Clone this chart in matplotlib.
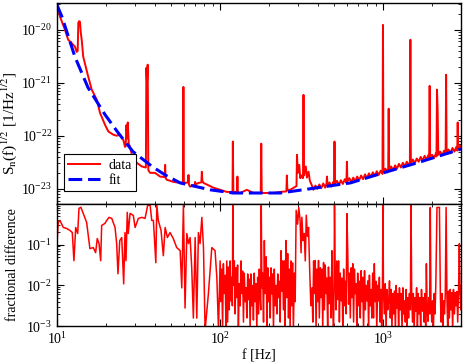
import numpy as np
import matplotlib
matplotlib.use("Agg")
import matplotlib.pyplot as plt
from matplotlib.ticker import LogLocator, NullFormatter

plt.rcParams["font.family"] = ["Liberation Serif", "DejaVu Serif"]
plt.rcParams["mathtext.fontset"] = "stix"
plt.rcParams["font.size"] = 10

# values as (log10 f, log10 value) pairs
# top panel, measured noise spectrum
data_pts = [
    (1.000, -19.51), (1.018, -19.75), (1.049, -20.00), (1.069, -20.19), (1.092, -20.26),
    (1.110, -20.32), (1.121, -20.42), (1.127, -20.40), (1.131, -19.87), (1.136, -19.84),
    (1.141, -19.85), (1.146, -20.05), (1.152, -20.20), (1.161, -20.51), (1.192, -20.89),
    (1.213, -21.13), (1.244, -21.32), (1.264, -21.57), (1.294, -21.79), (1.315, -21.92),
    (1.345, -21.98), (1.366, -22.00), (1.387, -21.98), (1.407, -22.08), (1.417, -22.21),
    (1.421, -22.20), (1.426, -21.80), (1.430, -22.05), (1.434, -21.75), (1.440, -22.15),
    (1.448, -22.21), (1.462, -22.40), (1.489, -22.51), (1.520, -22.58), (1.545, -22.60),
    (1.548, -20.72), (1.552, -21.00), (1.556, -20.66), (1.560, -22.65), (1.571, -22.70),
    (1.601, -22.70), (1.632, -22.77), (1.660, -22.78), (1.663, -22.55), (1.666, -22.80),
    (1.673, -22.83), (1.713, -22.87), (1.755, -22.89), (1.772, -22.88), (1.775, -21.08),
    (1.778, -22.89), (1.785, -22.89), (1.804, -22.88), (1.806, -22.74), (1.809, -22.92),
    (1.816, -22.96), (1.845, -22.92), (1.847, -22.87), (1.850, -22.92), (1.867, -22.89),
    (1.885, -22.88), (1.888, -22.68), (1.891, -22.85), (1.898, -22.89), (1.959, -22.98),
    (2.041, -23.06), (2.076, -23.06), (2.078, -22.11), (2.081, -23.06), (2.103, -23.06),
    (2.106, -22.77), (2.109, -23.07), (2.123, -23.08), (2.164, -23.02), (2.204, -23.08),
    (2.249, -23.08), (2.252, -22.15), (2.255, -23.08), (2.327, -23.08), (2.368, -23.06),
    (2.406, -23.05), (2.409, -22.75), (2.412, -23.02), (2.429, -23.02), (2.468, -22.95),
    (2.471, -22.36), (2.476, -22.70), (2.485, -22.55), (2.491, -22.80), (2.498, -22.75),
    (2.508, -22.80), (2.511, -21.23), (2.514, -22.75), (2.525, -22.58), (2.532, -22.79),
    (2.542, -22.68), (2.550, -22.85), (2.560, -22.92), (2.572, -23.02), (2.584, -22.94),
    (2.596, -23.00), (2.608, -22.92), (2.620, -22.99), (2.632, -22.90), (2.644, -22.98),
    (2.652, -22.90), (2.655, -22.77), (2.658, -22.95), (2.670, -22.88), (2.682, -22.96),
    (2.694, -22.87), (2.698, -22.93), (2.701, -22.11), (2.704, -22.90), (2.716, -22.85),
    (2.728, -22.93), (2.740, -22.84), (2.752, -22.91), (2.764, -22.82), (2.774, -22.89),
    (2.777, -22.49), (2.780, -22.86), (2.792, -22.80), (2.804, -22.88), (2.816, -22.79),
    (2.828, -22.86), (2.840, -22.77), (2.852, -22.84), (2.864, -22.75), (2.876, -22.82),
    (2.888, -22.73), (2.900, -22.80), (2.912, -22.71), (2.924, -22.78), (2.936, -22.69),
    (2.948, -22.76), (2.960, -22.67), (2.972, -22.74), (2.984, -22.66), (2.995, -22.72),
    (2.998, -19.91), (3.001, -22.68), (3.013, -22.62), (3.025, -22.69), (3.030, -22.62),
    (3.033, -21.49), (3.036, -22.66), (3.048, -22.58), (3.060, -22.65), (3.072, -22.56),
    (3.084, -22.62), (3.096, -22.53), (3.108, -22.60), (3.120, -22.51), (3.132, -22.58),
    (3.144, -22.49), (3.156, -22.56), (3.163, -22.50), (3.166, -20.19), (3.169, -22.53),
    (3.181, -22.45), (3.193, -22.52), (3.205, -22.43), (3.217, -22.49), (3.229, -22.40),
    (3.241, -22.47), (3.253, -22.38), (3.265, -22.45), (3.277, -22.36), (3.281, -22.43),
    (3.284, -21.06), (3.287, -22.40), (3.299, -22.36), (3.311, -22.42), (3.323, -22.33),
    (3.326, -22.39), (3.329, -21.13), (3.333, -21.51), (3.337, -22.36), (3.349, -22.30),
    (3.361, -22.37), (3.373, -22.28), (3.382, -22.34), (3.385, -20.85), (3.388, -22.31),
    (3.400, -22.26), (3.412, -22.33), (3.424, -22.23), (3.436, -22.30), (3.448, -22.21),
    (3.453, -22.28), (3.456, -21.75), (3.459, -22.26), (3.470, -22.19), (3.479, -22.24),
]

# top panel, fitted curve
fit_pts = [
    (1.000, -19.53), (1.031, -19.76), (1.110, -20.51), (1.190, -21.09), (1.294, -21.60),
    (1.374, -21.94), (1.466, -22.30), (1.583, -22.58), (1.663, -22.74), (1.755, -22.89),
    (1.939, -23.02), (2.080, -23.08), (2.245, -23.08), (2.368, -23.08), (2.552, -23.00),
    (2.798, -22.89), (3.000, -22.70), (3.209, -22.51), (3.479, -22.25),
]

# bottom panel, fractional difference
diff_pts = [
    (1.000, -0.975), (1.008, -0.457), (1.018, -0.407), (1.039, -0.580), (1.060, -0.605),
    (1.080, -0.654), (1.094, -0.704), (1.104, -1.395), (1.115, -0.580), (1.127, -0.728),
    (1.135, -0.111), (1.147, -0.086), (1.161, -0.235), (1.182, -0.457), (1.202, -1.099),
    (1.223, -1.074), (1.237, -1.198), (1.247, -0.852), (1.258, -0.975), (1.268, -1.395),
    (1.274, -0.531), (1.294, -0.481), (1.305, -0.407), (1.319, -0.333), (1.336, -0.358),
    (1.356, -0.580), (1.366, -0.975), (1.374, -1.716), (1.385, -0.901), (1.397, -0.827),
    (1.409, -1.963), (1.417, -0.704), (1.423, -1.395), (1.431, -0.210), (1.437, -0.728),
    (1.448, -0.235), (1.468, -0.284), (1.479, -0.580), (1.499, -0.358), (1.520, -0.333),
    (1.540, -0.358), (1.556, -0.037), (1.571, -0.037), (1.581, -0.407), (1.591, -0.407),
    (1.606, -1.444), (1.612, -0.037), (1.621, -0.407), (1.638, -0.654), (1.652, -1.272),
    (1.663, -0.580), (1.677, -0.827), (1.693, -0.704), (1.713, -0.852), (1.734, -1.074),
    (1.755, -1.148), (1.765, -2.062), (1.775, -0.037), (1.785, -2.556), (1.796, -0.728),
    (1.806, -0.975), (1.816, -0.827), (1.826, -1.568), (1.836, -2.802), (1.847, -0.827),
    (1.857, -2.802), (1.867, -0.704), (1.877, -0.975), (1.888, -0.333), (1.898, -1.074),
    (1.908, -3.100), (1.928, -2.210), (1.949, -1.074), (1.969, -1.148), (1.980, -1.815),
    (1.990, -3.100),
    (2.000, -1.40), (2.005, -2.40), (2.010, -1.60), (2.015, -3.10), (2.020, -1.47),
    (2.025, -2.20), (2.031, -1.75), (2.036, -3.10), (2.041, -1.40), (2.046, -2.90),
    (2.051, -1.55), (2.056, -2.60), (2.061, -1.40), (2.066, -2.38), (2.072, -1.80),
    (2.075, -2.50), (2.078, -0.04), (2.082, -2.00), (2.087, -1.40), (2.092, -2.70),
    (2.097, -1.57), (2.102, -2.30), (2.107, -1.50), (2.112, -3.10), (2.117, -1.96),
    (2.123, -2.50), (2.128, -1.40), (2.133, -2.20), (2.138, -1.65), (2.143, -2.90),
    (2.148, -1.70), (2.154, -2.40), (2.159, -2.06), (2.164, -2.80), (2.169, -1.72),
    (2.174, -2.35), (2.179, -1.85), (2.184, -3.10), (2.189, -1.72), (2.194, -2.50),
    (2.199, -2.00), (2.204, -2.85), (2.209, -1.70), (2.214, -2.40), (2.220, -1.96),
    (2.225, -3.10), (2.230, -1.80), (2.235, -2.70), (2.240, -1.60), (2.245, -2.30),
    (2.249, -2.60), (2.252, -0.04), (2.256, -2.06), (2.261, -1.70), (2.266, -2.90),
    (2.271, -0.90), (2.276, -2.20), (2.282, -1.30), (2.287, -3.10), (2.292, -1.57),
    (2.297, -2.40), (2.302, -1.80), (2.307, -2.80), (2.312, -1.57), (2.317, -2.21),
    (2.322, -1.72), (2.327, -3.10), (2.332, -1.60), (2.337, -2.50), (2.343, -2.00),
    (2.348, -2.70), (2.353, -1.72), (2.358, -2.30), (2.363, -1.90), (2.368, -2.90),
    (2.373, -1.15), (2.378, -2.14), (2.383, -1.40), (2.388, -2.60), (2.393, -1.40),
    (2.398, -3.10), (2.403, -0.90), (2.409, -2.30), (2.414, -1.22), (2.419, -2.80),
    (2.424, -1.60), (2.429, -3.10), (2.434, -1.40), (2.439, -2.50), (2.444, -1.45),
    (2.449, -3.10), (2.455, -1.70), (2.460, -2.40), (2.466, -0.16), (2.475, -0.50),
    (2.482, -0.09), (2.490, -0.40), (2.496, -1.20), (2.501, -0.33), (2.508, -0.90),
    (2.515, -0.73), (2.522, -1.40), (2.528, -0.28), (2.535, -0.80), (2.542, -0.58),
    (2.548, -1.50), (2.556, -2.50), (2.563, -2.06), (2.568, -2.90), (2.573, -1.40),
    (2.578, -2.20), (2.583, -1.39), (2.588, -3.10), (2.593, -1.60), (2.598, -2.40),
    (2.603, -1.39), (2.608, -2.80), (2.614, -1.57), (2.619, -2.30), (2.624, -1.60),
    (2.629, -3.10), (2.634, -1.44), (2.639, -2.60), (2.644, -1.50), (2.649, -2.20),
    (2.654, -1.82), (2.659, -3.10), (2.664, -1.55), (2.669, -2.45), (2.675, -1.80),
    (2.680, -2.80), (2.685, -1.15), (2.690, -2.50), (2.695, -3.10), (2.698, -2.20),
    (2.701, -0.04), (2.705, -1.57), (2.710, -2.60), (2.715, -1.40), (2.721, -2.35),
    (2.726, -1.40), (2.731, -2.90), (2.736, -1.70), (2.742, -2.38), (2.747, -1.82),
    (2.752, -3.10), (2.757, -1.60), (2.762, -2.50), (2.767, -1.90), (2.772, -2.70),
    (2.777, -0.24), (2.782, -1.15), (2.787, -2.46), (2.792, -1.70), (2.798, -2.80),
    (2.803, -1.57), (2.808, -2.30), (2.813, -1.47), (2.818, -2.90), (2.823, -1.60),
    (2.828, -2.20), (2.833, -1.96), (2.838, -3.10), (2.843, -1.70), (2.848, -2.50),
    (2.854, -1.90), (2.859, -2.80), (2.864, -1.64), (2.869, -2.40), (2.874, -1.80),
    (2.879, -3.10), (2.885, -1.64), (2.890, -2.60), (2.895, -2.00), (2.900, -2.38),
    (2.905, -1.89), (2.910, -3.10), (2.915, -1.75), (2.920, -2.50), (2.925, -2.10),
    (2.930, -2.80), (2.935, -1.70), (2.940, -2.80), (2.945, -1.47), (2.950, -2.40),
    (2.955, -1.90), (2.960, -3.10), (2.966, -2.00), (2.971, -2.38), (2.976, -1.80),
    (2.981, -2.90), (2.986, -2.10), (2.990, -3.10), (2.995, -2.00), (2.998, -0.02),
    (3.001, -2.10), (3.006, -2.70), (3.012, -1.96), (3.017, -3.10), (3.022, -2.10),
    (3.027, -2.60), (3.033, -2.38), (3.038, -1.89), (3.043, -2.80), (3.048, -2.10),
    (3.053, -3.10), (3.058, -2.20), (3.063, -2.70), (3.069, -2.14), (3.074, -3.10),
    (3.079, -2.00), (3.084, -2.56), (3.089, -2.20), (3.094, -3.10), (3.099, -2.06),
    (3.104, -2.60), (3.109, -2.20), (3.115, -3.10), (3.120, -2.06), (3.125, -2.70),
    (3.130, -2.38), (3.135, -2.90), (3.140, -2.10), (3.145, -3.10), (3.150, -2.30),
    (3.155, -2.80), (3.160, -2.20), (3.166, -2.60), (3.170, -0.02), (3.174, -2.21),
    (3.179, -2.90), (3.184, -2.20), (3.189, -3.10), (3.194, -2.30), (3.199, -2.63),
    (3.204, -2.06), (3.209, -3.10), (3.214, -2.20), (3.219, -2.70), (3.224, -2.30),
    (3.229, -3.10), (3.234, -2.10), (3.240, -2.63), (3.245, -2.30), (3.250, -2.90),
    (3.255, -2.20), (3.260, -3.10), (3.264, -1.47), (3.269, -2.60), (3.274, -2.88),
    (3.279, -2.30), (3.284, -2.70), (3.288, -0.09), (3.292, -2.38), (3.297, -2.90),
    (3.302, -2.38), (3.307, -3.10), (3.312, -2.20), (3.317, -2.70), (3.322, -1.96),
    (3.329, -0.09), (3.336, -0.09), (3.344, -0.09), (3.350, -2.31), (3.355, -2.90),
    (3.360, -2.20), (3.365, -3.10), (3.370, -2.38), (3.375, -2.70), (3.380, -2.20),
    (3.385, -0.09), (3.390, -2.31), (3.395, -3.10), (3.400, -2.14), (3.405, -2.80),
    (3.410, -2.10), (3.415, -2.60), (3.420, -2.18), (3.425, -3.10), (3.430, -2.10),
    (3.436, -2.70), (3.441, -2.18), (3.446, -2.50), (3.451, -2.15), (3.456, -2.90),
    (3.461, -2.18), (3.466, -0.98), (3.470, -2.10), (3.475, -2.60), (3.479, -2.00),
]

data_lf, data_ls = np.array(data_pts).T
fit_lf, fit_ls = np.array(fit_pts).T
diff_lf, diff_ld = np.array(diff_pts).T

fig = plt.figure(figsize=(4.63, 3.62), dpi=100)
ax1 = fig.add_axes([0.123, 0.437, 0.873, 0.555])
ax2 = fig.add_axes([0.123, 0.099, 0.873, 0.338], sharex=ax1)

ax1.plot(10 ** data_lf, 10 ** data_ls, color="red", lw=1.4, label="data")
ax1.plot(10 ** fit_lf, 10 ** fit_ls, color="blue", lw=2.2, ls=(0, (4.5, 1.9)), label="fit")
ax2.plot(10 ** diff_lf, 10 ** diff_ld, color="red", lw=1.1)

for ax in (ax1, ax2):
    ax.set_xscale("log")
    ax.set_yscale("log")
    ax.tick_params(which="both", direction="in", top=True, right=True)
    ax.tick_params(which="major", length=5, width=0.8, labelsize=10)
    ax.tick_params(which="minor", length=2.5, width=0.6)
    ax.yaxis.set_minor_locator(LogLocator(base=10, subs=np.arange(2, 10), numticks=20))
    ax.yaxis.set_minor_formatter(NullFormatter())
    for sp in ax.spines.values():
        sp.set_linewidth(1.0)

ax1.set_xlim(10, 3000)
ax1.set_ylim(5.2e-24, 3.2e-20)
ax2.set_ylim(1e-3, 1)
ax1.tick_params(labelbottom=False)
ax1.set_yticks([1e-23, 1e-22, 1e-21, 1e-20])
ax2.set_yticks([1e-3, 1e-2, 1e-1])

ax1.set_ylabel(r"S$_\mathrm{n}$(f)$^{1/2}$ [1/Hz$^{1/2}$]", fontsize=11)
ax2.set_ylabel("fractional difference")
ax2.set_xlabel("f [Hz]", labelpad=2)
ax1.yaxis.set_label_coords(-0.095, 0.40)
ax2.yaxis.set_label_coords(-0.095, 0.5)

leg = ax1.legend(loc="lower left", bbox_to_anchor=(0.0, 0.03), fancybox=False,
                 edgecolor="black", framealpha=1, handlelength=2.3,
                 borderpad=0.3, labelspacing=0.15, handletextpad=0.6)
leg.get_frame().set_linewidth(0.8)

fig.savefig("out.png", dpi=100)
